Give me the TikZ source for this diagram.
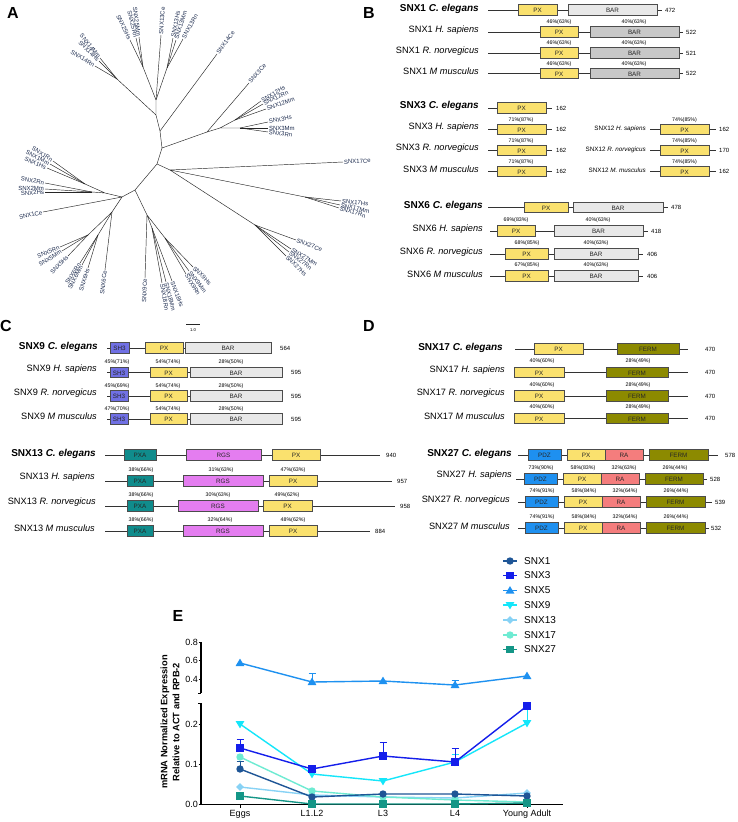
\documentclass[tikz,border=0pt]{standalone}
\usepackage{fontspec}
\setmainfont{Liberation Sans}
\definecolor{pxc}{RGB}{250,225,110}
\definecolor{barl}{RGB}{232,232,232}
\definecolor{bard}{RGB}{200,200,200}
\definecolor{shc}{RGB}{112,112,228}
\definecolor{pxac}{RGB}{16,140,140}
\definecolor{rgsc}{RGB}{228,125,240}
\definecolor{fermc}{RGB}{140,138,0}
\definecolor{pdzc}{RGB}{30,144,240}
\definecolor{rac}{RGB}{244,125,125}
\definecolor{treec}{RGB}{30,45,80}
\definecolor{colone}{RGB}{30,85,150}
\definecolor{colthree}{RGB}{20,30,235}
\definecolor{colfive}{RGB}{30,145,240}
\definecolor{colnine}{RGB}{20,230,250}
\definecolor{colthirteen}{RGB}{135,210,245}
\definecolor{colseventeen}{RGB}{110,235,210}
\definecolor{coltwsev}{RGB}{20,150,135}
\newcommand{\dombox}[5]{\draw[dom,fill=#4] (#1,#3-5.2) rectangle (#2,#3+5.2); \node[domt] at ({(#1+#2)/2},#3+0.4) {#5};}
\newcommand{\bbline}[5]{\draw[bb] (#1,#3) -- (#2,#3); \node[len] at (#4,#3) {#5};}
\newcommand{\pctx}[3]{\node[pct] at (#1,#2) {#3};}
\newcommand{\treeleaf}[6]{\draw[tree] (#1) -- (#2,#3) node[tlab,anchor=#4,rotate=#5] {#6};}
\newcommand{\mcirc}[3]{\fill[#3] (#1,#2) circle (3.7);}
\newcommand{\msq}[3]{\fill[#3] (#1-3.6,#2-3.6) rectangle (#1+3.6,#2+3.6);}
\newcommand{\mtu}[3]{\fill[#3] (#1,#2-4.4) -- (#1+4.4,#2+3) -- (#1-4.4,#2+3) -- cycle;}
\newcommand{\mtd}[3]{\fill[#3] (#1,#2+4.4) -- (#1+4.4,#2-3) -- (#1-4.4,#2-3) -- cycle;}
\newcommand{\mdia}[3]{\fill[#3] (#1,#2-3.9) -- (#1+3.9,#2) -- (#1,#2+3.9) -- (#1-3.9,#2) -- cycle;}
\newcommand{\errb}[4]{\draw[#4,line width=1pt] (#1,#2) -- (#1,#3) (#1-3.5,#3) -- (#1+3.5,#3);}
\begin{document}
\begin{tikzpicture}[x=1pt,y=-1pt,
  tree/.style={line width=0.45pt, draw=black!85},
  tlab/.style={font=\fontsize{6}{7}\selectfont, text=treec, inner sep=0.8pt},
  lbl/.style={font=\fontsize{9.2}{10}\selectfont, anchor=east, inner sep=0},
  lblb/.style={font=\bfseries\fontsize{10}{11}\selectfont, anchor=east, inner sep=0},
  lbls/.style={font=\fontsize{6.3}{7}\selectfont, anchor=east, inner sep=0},
  pct/.style={font=\fontsize{5.3}{6}\selectfont, inner sep=0},
  len/.style={font=\fontsize{6}{7}\selectfont, anchor=west, inner sep=0},
  bb/.style={line width=0.7pt, draw=black!80},
  dom/.style={draw=black!70, line width=0.75pt},
  domt/.style={font=\fontsize{6.3}{7}\selectfont, inner sep=0, text=black!85},
  panel/.style={font=\bfseries\fontsize{16}{18}\selectfont, inner sep=0},
  axisl/.style={line width=1.2pt, draw=black},
  tickl/.style={font=\fontsize{9}{10}\selectfont, inner sep=0},
  leg/.style={font=\fontsize{10}{11}\selectfont, anchor=west, inner sep=0},
  ser/.style={line width=1.4pt}]
\fill[white] (0,0) rectangle (738,822);
\useasboundingbox (0,0) rectangle (738,822);

% ================= Panel A (tree)
\node[panel] (pA) at (13,13) {A};
\coordinate (t0) at (162,148);
\coordinate (ta) at (160,131);
\coordinate (tb) at (156,115);
\coordinate (t14) at (117,79);
\coordinate (tc) at (156,100);
\coordinate (t25) at (143,67);
\coordinate (t13) at (167,68);
\coordinate (t3) at (207,132);
\coordinate (t312) at (220,128);
\coordinate (t12) at (235,120);
\coordinate (t3s) at (240,128);
\coordinate (tm) at (157,164);
\coordinate (t17) at (170,170);
\coordinate (t17b) at (305,197);
\coordinate (t27) at (255,225);
\coordinate (tl) at (135,190);
\coordinate (t9a) at (147,215);
\coordinate (t18) at (152,228);
\coordinate (t9s) at (165,238);
\coordinate (tlf) at (122,197);
\coordinate (t12c) at (105,193);
\coordinate (t1) at (85,184);
\coordinate (t2) at (92,192);
\coordinate (t56) at (112,212);
\coordinate (t5) at (88,235);
\coordinate (t6) at (98,235);
\draw[tree] (t0)--(ta) (ta)--(tb) (tb)--(t14) (tb)--(tc) (tc)--(t25) (tc)--(t13)
  (t0)--(t3) (t3)--(t312) (t312)--(t12) (t312)--(t3s) (t0)--(tm) (tm)--(t17)
  (t17)--(t17b) (t17)--(t27) (tm)--(tl) (tl)--(t9a) (t9a)--(t18) (t9a)--(t9s)
  (tl)--(tlf) (tlf)--(t12c) (t12c)--(t1) (t12c)--(t2) (tlf)--(t56) (t56)--(t5) (t56)--(t6);
\treeleaf{ta}{217}{54}{west}{53.5}{SNX14Ce}
\treeleaf{t14}{100}{58}{east}{-51}{SNX14Mm}
\treeleaf{t14}{99}{61}{east}{-45}{SNX14Hs}
\treeleaf{t14}{95}{66}{east}{-31}{SNX14Rn}
\treeleaf{t25}{130}{40}{east}{-64}{SNX25Hs}
\treeleaf{t25}{136}{38}{east}{-76}{SNX25Rn}
\treeleaf{t25}{139}{37}{east}{-82}{SNX25Mm}
\treeleaf{tc}{161}{35}{west}{86}{SNX13Ce}
\treeleaf{t13}{173}{38}{west}{79}{SNX13Hs}
\treeleaf{t13}{176}{40}{west}{72}{SNX13Mm}
\treeleaf{t13}{183}{39}{west}{61}{SNX13Rn}
\treeleaf{t3}{249}{83}{west}{49}{SNX3Ce}
\treeleaf{t12}{261}{101}{west}{30}{SNX12Hs}
\treeleaf{t12}{263}{104}{west}{26}{SNX12Rn}
\treeleaf{t12}{266}{109}{west}{19}{SNX12Mm}
\treeleaf{t3s}{268}{122}{west}{12}{SNX3Hs}
\treeleaf{t3s}{268}{128}{west}{0}{SNX3Mm}
\treeleaf{t3s}{268}{132}{west}{-8}{SNX3Rn}
\treeleaf{t17}{343}{162}{west}{2.6}{SNX17Ce}
\treeleaf{t17b}{341}{201}{west}{-6}{SNX17Hs}
\treeleaf{t17b}{340}{205}{west}{-12}{SNX17Mm}
\treeleaf{t17b}{339}{208}{west}{-17}{SNX17Rn}
\treeleaf{t27}{296}{240}{west}{-21}{SNX27Ce}
\treeleaf{t27}{291}{249}{west}{-31}{SNX27Mm}
\treeleaf{t27}{289}{252}{west}{-37}{SNX27Rn}
\treeleaf{t27}{286}{256}{west}{-44}{SNX27Hs}
\treeleaf{t9a}{145}{278}{east}{88}{SNX9Ce}
\treeleaf{t18}{162}{283}{west}{-80}{SNX18Rn}
\treeleaf{t18}{166}{282}{west}{-75}{SNX18Mm}
\treeleaf{t18}{172}{281}{west}{-69}{SNX18Hs}
\treeleaf{t9s}{193}{267}{west}{-44}{SNX9Hs}
\treeleaf{t9s}{189}{271}{west}{-52}{SNX9Mm}
\treeleaf{t9s}{186}{274}{west}{-58}{SNX9Rn}
\treeleaf{t1}{47}{168}{east}{-23}{SNX1Hs}
\treeleaf{t1}{50}{164}{east}{-27}{SNX1Mm}
\treeleaf{t1}{53}{161}{east}{-33}{SNX1Rn}
\treeleaf{t2}{45}{183}{east}{-10}{SNX2Rn}
\treeleaf{t2}{45}{189}{east}{-1}{SNX2Mm}
\treeleaf{t2}{45}{192}{east}{4}{SNX2Hs}
\treeleaf{tlf}{43}{212}{east}{14}{SNX1Ce}
\treeleaf{t56}{105}{270}{east}{83}{SNX6Ce}
\treeleaf{t5}{60}{247}{east}{23}{SNX5Rn}
\treeleaf{t5}{62}{251}{east}{32}{SNX5Mm}
\treeleaf{t5}{68}{256}{east}{46}{SNX5Hs}
\treeleaf{t6}{80}{263}{east}{57}{SNX6Rn}
\treeleaf{t6}{82}{265}{east}{62}{SNX6Mm}
\treeleaf{t6}{88}{268}{east}{73}{SNX6Hs}
\draw[tree] (186,324) -- (200,324);
\node[font=\fontsize{4.2}{5}\selectfont, inner sep=0] (sc) at (193,330) {1.0};

% ================= Panel B
\node[panel] (pB) at (369,13) {B};
\node[lblb] (b1c) at (479,8.5) {SNX1 \textit{C. elegans}};
\bbline{488}{662}{10}{665}{472}
\dombox{518}{557}{10}{pxc}{PX}
\dombox{568}{657}{10}{barl}{BAR}
\node[lbl] (b1h) at (479,30) {SNX1 \textit{H. sapiens}};
\bbline{488}{683}{32}{686}{522}
\dombox{540}{578}{32}{pxc}{PX}
\dombox{590}{679}{32}{bard}{BAR}
\pctx{559}{22.5}{46\%(63\%)}
\pctx{634}{22.5}{40\%(63\%)}
\node[lbl] (b1r) at (479,51) {SNX1 \textit{R. norvegicus}};
\bbline{488}{683}{53}{686}{521}
\dombox{540}{578}{53}{pxc}{PX}
\dombox{590}{679}{53}{bard}{BAR}
\pctx{559}{43.5}{46\%(63\%)}
\pctx{634}{43.5}{40\%(63\%)}
\node[lbl] (b1m) at (479,71.5) {SNX1 \textit{M musculus}};
\bbline{488}{683}{73.5}{686}{522}
\dombox{540}{578}{73.5}{pxc}{PX}
\dombox{590}{679}{73.5}{bard}{BAR}
\pctx{559}{64}{46\%(63\%)}
\pctx{634}{64}{40\%(63\%)}
% SNX3
\node[lblb] (b3c) at (479,106) {SNX3 \textit{C. elegans}};
\bbline{488}{552}{108}{556}{162}
\dombox{497}{546}{108}{pxc}{PX}
\node[lbl] (b3h) at (479,127.5) {SNX3 \textit{H. sapiens}};
\bbline{488}{552}{129.5}{556}{162}
\dombox{497}{546}{129.5}{pxc}{PX}
\pctx{521}{120}{71\%(87\%)}
\node[lbl] (b3r) at (479,148.5) {SNX3 \textit{R. norvegicus}};
\bbline{488}{552}{150.5}{556}{162}
\dombox{497}{546}{150.5}{pxc}{PX}
\pctx{521}{141}{71\%(87\%)}
\node[lbl] (b3m) at (479,169.5) {SNX3 \textit{M musculus}};
\bbline{488}{552}{171.5}{556}{162}
\dombox{497}{546}{171.5}{pxc}{PX}
\pctx{521}{162}{71\%(87\%)}
% SNX12
\node[lbls] (b12h) at (646,128.5) {SNX12 \textit{H. sapiens}};
\bbline{650}{716}{129.5}{719}{162}
\dombox{660}{709}{129.5}{pxc}{PX}
\pctx{684.5}{120}{74\%(85\%)}
\node[lbls] (b12r) at (646,149.5) {SNX12 \textit{R. norvegicus}};
\bbline{650}{716}{150.5}{719}{170}
\dombox{660}{709}{150.5}{pxc}{PX}
\pctx{684.5}{141}{74\%(85\%)}
\node[lbls] (b12m) at (646,170.5) {SNX12 \textit{M. musculus}};
\bbline{650}{716}{171.5}{719}{162}
\dombox{660}{709}{171.5}{pxc}{PX}
\pctx{684.5}{162}{74\%(85\%)}
% SNX6
\node[lblb] (b6c) at (483,206) {SNX6 \textit{C. elegans}};
\bbline{488}{668}{207.5}{671}{478}
\dombox{524}{568}{207.5}{pxc}{PX}
\dombox{573}{663}{207.5}{barl}{BAR}
\node[lbl] (b6h) at (483,229) {SNX6 \textit{H. sapiens}};
\bbline{490}{648}{231}{651}{418}
\dombox{497}{535}{231}{pxc}{PX}
\dombox{554}{643}{231}{barl}{BAR}
\pctx{516}{220.5}{69\%(83\%)}
\pctx{598}{220.5}{40\%(63\%)}
\node[lbl] (b6r) at (483,252.5) {SNX6 \textit{R. norvegicus}};
\bbline{490}{643}{254}{647}{406}
\dombox{505}{548}{254}{pxc}{PX}
\dombox{554}{638}{254}{barl}{BAR}
\pctx{527}{243.5}{68\%(85\%)}
\pctx{596}{243.5}{40\%(63\%)}
\node[lbl] (b6m) at (483,274.5) {SNX6 \textit{M musculus}};
\bbline{490}{643}{276}{647}{406}
\dombox{505}{548}{276}{pxc}{PX}
\dombox{554}{638}{276}{barl}{BAR}
\pctx{527}{265.5}{67\%(85\%)}
\pctx{596}{265.5}{40\%(63\%)}

% ================= Panel C
\node[panel] (pC) at (6,326) {C};
\node[lblb] (c9c) at (98,346.5) {SNX9 \textit{C. elegans}};
\bbline{107}{271}{348}{280}{564}
\dombox{110}{129}{348}{shc}{SH3}
\dombox{145}{183}{348}{pxc}{PX}
\dombox{185}{271}{348}{barl}{BAR}
\node[lbl] (c9h) at (97,369.5) {SNX9 \textit{H. sapiens}};
\bbline{107}{282}{372.5}{291}{595}
\dombox{110}{128}{372.5}{shc}{SH3}
\dombox{150}{187}{372.5}{pxc}{PX}
\dombox{190}{282}{372.5}{barl}{BAR}
\pctx{117}{362.5}{45\%(71\%)}
\pctx{168}{362.5}{54\%(74\%)}
\pctx{231}{362.5}{28\%(50\%)}
\node[lbl] (c9r) at (97,393.5) {SNX9 \textit{R. norvegicus}};
\bbline{107}{282}{396}{291}{595}
\dombox{110}{128}{396}{shc}{SH3}
\dombox{150}{187}{396}{pxc}{PX}
\dombox{190}{282}{396}{barl}{BAR}
\pctx{117}{386}{45\%(69\%)}
\pctx{168}{386}{54\%(74\%)}
\pctx{231}{386}{28\%(50\%)}
\node[lbl] (c9m) at (97,416.5) {SNX9 \textit{M musculus}};
\bbline{107}{282}{419}{291}{595}
\dombox{110}{128}{419}{shc}{SH3}
\dombox{150}{187}{419}{pxc}{PX}
\dombox{190}{282}{419}{barl}{BAR}
\pctx{117}{409.5}{47\%(70\%)}
\pctx{168}{409.5}{54\%(74\%)}
\pctx{231}{409.5}{28\%(50\%)}
% SNX13
\node[lblb] (c13c) at (96,454) {SNX13 \textit{C. elegans}};
\bbline{105}{380}{455}{386}{940}
\dombox{124}{156}{455}{pxac}{PXA}
\dombox{186}{261}{455}{rgsc}{RGS}
\dombox{272}{320}{455}{pxc}{PX}
\node[lbl] (c13h) at (95,477.5) {SNX13 \textit{H. sapiens}};
\bbline{105}{392}{481}{397}{957}
\dombox{127}{153}{481}{pxac}{PXA}
\dombox{183}{263}{481}{rgsc}{RGS}
\dombox{269}{317}{481}{pxc}{PX}
\pctx{141}{470}{38\%(66\%)}
\pctx{221}{470}{31\%(63\%)}
\pctx{293}{470}{47\%(63\%)}
\node[lbl] (c13r) at (96,502.5) {SNX13 \textit{R. norvegicus}};
\bbline{105}{395}{506}{400}{958}
\dombox{127}{153}{506}{pxac}{PXA}
\dombox{178}{258}{506}{rgsc}{RGS}
\dombox{263}{312}{506}{pxc}{PX}
\pctx{141}{495}{38\%(66\%)}
\pctx{218}{495}{30\%(63\%)}
\pctx{287}{495}{49\%(62\%)}
\node[lbl] (c13m) at (95,528) {SNX13 \textit{M musculus}};
\bbline{105}{370}{531}{375}{884}
\dombox{127}{153}{531}{pxac}{PXA}
\dombox{183}{263}{531}{rgsc}{RGS}
\dombox{269}{317}{531}{pxc}{PX}
\pctx{141}{520}{38\%(66\%)}
\pctx{220}{520}{32\%(64\%)}
\pctx{293}{520}{48\%(62\%)}

% ================= Panel D
\node[panel] (pD) at (369,326) {D};
\node[lblb] (d17c) at (503,347.5) {SNX17 \textit{C. elegans}};
\bbline{515}{688}{349}{705}{470}
\dombox{534}{583}{349}{pxc}{PX}
\dombox{617}{679}{349}{fermc}{FERM}
\node[lbl] (d17h) at (505,370.5) {SNX17 \textit{H. sapiens}};
\bbline{514}{688}{372.5}{705}{470}
\dombox{514}{564}{372.5}{pxc}{PX}
\dombox{606}{668}{372.5}{fermc}{FERM}
\pctx{542}{361.5}{40\%(60\%)}
\pctx{638}{361.5}{28\%(49\%)}
\node[lbl] (d17r) at (505,393.5) {SNX17 \textit{R. norvegicus}};
\bbline{514}{688}{396}{705}{470}
\dombox{514}{564}{396}{pxc}{PX}
\dombox{606}{668}{396}{fermc}{FERM}
\pctx{542}{385}{40\%(60\%)}
\pctx{638}{385}{28\%(49\%)}
\node[lbl] (d17m) at (505,416) {SNX17 \textit{M musculus}};
\bbline{514}{688}{418.5}{705}{470}
\dombox{514}{564}{418.5}{pxc}{PX}
\dombox{606}{668}{418.5}{fermc}{FERM}
\pctx{542}{407.5}{40\%(60\%)}
\pctx{638}{407.5}{28\%(49\%)}
% SNX27
\node[lblb] (d27c) at (512,454) {SNX27 \textit{C. elegans}};
\bbline{518}{718}{455}{725}{578}
\dombox{528}{561}{455}{pdzc}{PDZ}
\dombox{567}{605}{455}{pxc}{PX}
\dombox{605}{643}{455}{rac}{RA}
\dombox{649}{708}{455}{fermc}{FERM}
\node[lbl] (d27h) at (512,475) {SNX27 \textit{H. sapiens}};
\bbline{516}{707}{479}{710}{528}
\dombox{524}{557}{479}{pdzc}{PDZ}
\dombox{563}{601}{479}{pxc}{PX}
\dombox{601}{639}{479}{rac}{RA}
\dombox{645}{703}{479}{fermc}{FERM}
\pctx{541}{468}{73\%(90\%)}
\pctx{583}{468}{58\%(83\%)}
\pctx{624}{468}{32\%(63\%)}
\pctx{675}{468}{26\%(44\%)}
\node[lbl] (d27r) at (510,500.5) {SNX27 \textit{R. norvegicus}};
\bbline{518}{712}{502}{715}{539}
\dombox{525}{558}{502}{pdzc}{PDZ}
\dombox{564}{602}{502}{pxc}{PX}
\dombox{602}{640}{502}{rac}{RA}
\dombox{646}{705}{502}{fermc}{FERM}
\pctx{542}{491}{74\%(91\%)}
\pctx{584}{491}{58\%(84\%)}
\pctx{625}{491}{32\%(64\%)}
\pctx{676}{491}{26\%(44\%)}
\node[lbl] (d27m) at (510,526.5) {SNX27 \textit{M musculus}};
\bbline{518}{709}{528}{711}{532}
\dombox{525}{558}{528}{pdzc}{PDZ}
\dombox{564}{602}{528}{pxc}{PX}
\dombox{602}{640}{528}{rac}{RA}
\dombox{646}{705}{528}{fermc}{FERM}
\pctx{542}{517}{74\%(91\%)}
\pctx{584}{517}{58\%(84\%)}
\pctx{625}{517}{32\%(64\%)}
\pctx{676}{517}{26\%(44\%)}

% ================= Panel E
\node[panel] (pE) at (178,616) {E};
% legend
\draw[ser,colone] (503,561)--(517,561); \mcirc{510}{561}{colone} \node[leg] (l1) at (524,561) {SNX1};
\draw[ser,colthree] (503,575.5)--(517,575.5); \msq{510}{575.5}{colthree} \node[leg] (l3) at (524,575.5) {SNX3};
\draw[ser,colfive] (503,590.5)--(517,590.5); \mtu{510}{590.5}{colfive} \node[leg] (l5) at (524,590.5) {SNX5};
\draw[ser,colnine] (503,605)--(517,605); \mtd{510}{605}{colnine} \node[leg] (l9) at (524,605) {SNX9};
\draw[ser,colthirteen] (503,620)--(517,620); \mdia{510}{620}{colthirteen} \node[leg] (l13) at (524,620) {SNX13};
\draw[ser,colseventeen] (503,635)--(517,635); \mcirc{510}{635}{colseventeen} \node[leg] (l17) at (524,635) {SNX17};
\draw[ser,coltwsev] (503,649.5)--(517,649.5); \msq{510}{649.5}{coltwsev} \node[leg] (l27) at (524,649.5) {SNX27};
% axes
\draw[axisl] (201,642) -- (201,693);
\draw[axisl] (201,703) -- (201,804.5) -- (563,804.5);
\foreach \yy/\tl in {642/0.8,660.5/0.6,679/0.4,724/0.2,764/0.1,804/0.0} {
  \draw[line width=1pt] (198.5,\yy) -- (201,\yy);
  \node[tickl,anchor=east] at (198,\yy) {\tl};
}
\draw[line width=1pt] (198,693) -- (201,693) (198,703) -- (201,703);
\foreach \xx/\tl in {240/Eggs,312/L1.L2,383/L3,455/L4,527/Young Adult} {
  \draw[line width=1pt] (\xx,804.5) -- (\xx,808);
  \node[tickl,anchor=north] at (\xx,810) {\tl};
}
\node[font=\bfseries\fontsize{9.3}{10}\selectfont, rotate=90, inner sep=0] (yl1) at (165,722) {mRNA Normalized Expression};
\node[font=\bfseries\fontsize{9.3}{10}\selectfont, rotate=90, inner sep=0] (yl2) at (176,722) {Relative to ACT and RPB-2};
% series
\draw[ser,colthirteen] (240,787)--(312,795)--(383,797)--(455,798)--(527,793);
\foreach \x/\y in {240/787,312/795,383/797,455/798,527/793} {\mdia{\x}{\y}{colthirteen}}
\draw[ser,colseventeen] (240,757)--(312,791)--(383,797)--(455,800)--(527,802);
\foreach \x/\y in {240/757,312/791,383/797,455/800,527/802} {\mcirc{\x}{\y}{colseventeen}}
\errb{455}{762}{754}{colnine}
\errb{527}{723}{708}{colnine}
\draw[ser,colnine] (240,724)--(312,774)--(383,781)--(455,762)--(527,723);
\foreach \x/\y in {240/724,312/774,383/781,455/762,527/723} {\mtd{\x}{\y}{colnine}}
\errb{312}{682}{673}{colfive}
\errb{455}{685}{680.5}{colfive}
\draw[ser,colfive] (240,663)--(312,682)--(383,681)--(455,685)--(527,676);
\foreach \x/\y in {240/663,312/682,383/681,455/685,527/676} {\mtu{\x}{\y}{colfive}}
\errb{240}{748}{739}{colthree}
\errb{383}{756}{742}{colthree}
\errb{455}{762}{748}{colthree}
\draw[ser,colthree] (240,748)--(312,769)--(383,756)--(455,762)--(527,706);
\foreach \x/\y in {240/748,312/769,383/756,455/762,527/706} {\msq{\x}{\y}{colthree}}
\errb{240}{769}{761}{colone}
\draw[ser,colone] (240,769)--(312,797)--(383,794)--(455,794)--(527,796);
\foreach \x/\y in {240/769,312/797,383/794,455/794,527/796} {\mcirc{\x}{\y}{colone}}
\draw[ser,coltwsev] (240,796)--(312,804)--(383,804)--(455,804)--(527,803);
\foreach \x/\y in {240/796,312/804,383/804,455/804,527/803} {\msq{\x}{\y}{coltwsev}}
\end{tikzpicture}
\end{document}
